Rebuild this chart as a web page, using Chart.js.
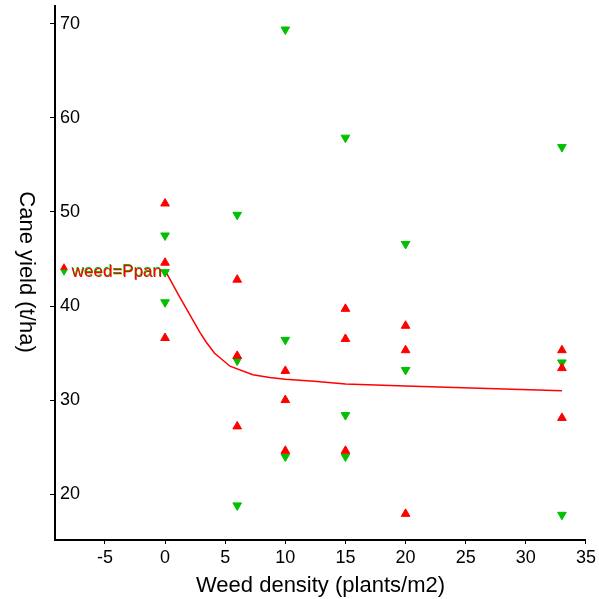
<!DOCTYPE html>
<html><head><meta charset="utf-8">
<script src="https://cdn.jsdelivr.net/npm/chart.js@4.4.0/dist/chart.umd.min.js"></script>
<style>html,body{margin:0;padding:0;background:#fff}#wrap{width:599px;height:599px;position:relative}</style>
</head><body><div id="wrap"><canvas id="c"></canvas></div>
<script>
// ---- data ----
const redX   = [0, 0, 0, 6, 6, 6, 10, 10, 10, 15, 15, 15, 20, 20, 20, 33, 33, 33];
const redY   = [50.9, 44.6, 36.6, 42.8, 34.7, 27.2, 33.1, 30.0, 24.6, 39.7, 36.5, 24.6, 37.9, 35.3, 17.9, 35.3, 33.4, 28.1];
const greenX = [0, 0, 0, 6, 6, 6, 10, 10, 10, 15, 15, 15, 20, 20, 33, 33, 33];
const greenY = [47.5, 43.6, 40.4, 49.7, 34.2, 18.8, 69.4, 36.4, 24.0, 57.9, 28.4, 24.0, 46.6, 33.2, 56.9, 34.0, 17.8];
const fitX   = [0, 1.2, 2.9, 3.4, 4.1, 5.4, 7.3, 8.7, 10, 12.4, 15, 20, 33];
const fitY   = [43.8, 41.0, 37.2, 36.2, 35.0, 33.6, 32.7, 32.4, 32.2, 32.0, 31.7, 31.5, 31.0];
const xTicks = [-5, 0, 5, 10, 15, 20, 25, 30, 35];
const yTicks = [20, 30, 40, 50, 60, 70];
const legendLabel = 'weed=Ppan';
const xTitle = 'Weed density (plants/m2)';
const yTitle = 'Cane yield (t/ha)';

const FONT = '"Liberation Sans", Arial, Helvetica, sans-serif';
const RED = '#ff0000', GREEN = '#00c000';

const pts = (xs, ys) => xs.map((x, i) => ({x: x, y: ys[i]}));

const overlay = {
  id: 'overlay',
  afterDraw(chart) {
    const ctx = chart.ctx, ca = chart.chartArea;
    ctx.save();
    // y axis title, reading top-to-bottom
    ctx.translate(26, (ca.top + ca.bottom) / 2 - 1);
    ctx.rotate(Math.PI / 2);
    ctx.font = '22px ' + FONT;
    ctx.fillStyle = '#000';
    ctx.textAlign = 'center';
    ctx.textBaseline = 'middle';
    ctx.fillText(yTitle, 0, 0);
    ctx.restore();

    // in-plot legend
    const lx = ca.left + 9, ly = 269;
    ctx.save();
    const tri = (cx, cy, r, up, col) => {
      ctx.beginPath();
      const s = up ? 1 : -1;
      ctx.moveTo(cx, cy - s * r);
      ctx.lineTo(cx + r * 0.866, cy + s * r * 0.5);
      ctx.lineTo(cx - r * 0.866, cy + s * r * 0.5);
      ctx.closePath();
      ctx.fillStyle = col; ctx.fill();
    };
    tri(lx, ly + 2.5, 4.5, false, GREEN);
    tri(lx, ly - 1.5, 4.5, true, RED);
    ctx.font = '17px ' + FONT;
    ctx.textBaseline = 'alphabetic';
    ctx.textAlign = 'left';
    ctx.fillStyle = GREEN;
    ctx.fillText(legendLabel, lx + 7.5, ly + 6.5);
    ctx.fillStyle = RED;
    ctx.fillText(legendLabel, lx + 8, ly + 7.5);
    ctx.restore();
  }
};

new Chart(document.getElementById('c'), {
  type: 'scatter',
  data: {
    datasets: [
      {label: 'red', data: pts(redX, redY), pointStyle: 'triangle', rotation: 0,
       pointRadius: 5, pointBackgroundColor: RED, pointBorderColor: RED, pointBorderWidth: 1, showLine: false},
      {label: 'green', data: pts(greenX, greenY), pointStyle: 'triangle', rotation: 180,
       pointRadius: 5, pointBackgroundColor: GREEN, pointBorderColor: GREEN, pointBorderWidth: 1, showLine: false},
      {label: 'fit', data: pts(fitX, fitY), showLine: true, borderColor: RED, borderWidth: 1.5,
       pointRadius: 0, tension: 0, fill: false}
    ]
  },
  options: {
    responsive: true, maintainAspectRatio: false, animation: false,
    layout: {padding: {top: 5, right: 11, left: 0, bottom: 0}},
    plugins: {legend: {display: false}, tooltip: {enabled: false}},
    scales: {
      x: {
        type: 'linear', min: -9.15, max: 35,
        afterBuildTicks: s => { s.ticks = xTicks.map(v => ({value: v})); },
        afterFit: s => { s.height = 59; },
        ticks: {font: {size: 18, family: FONT}, color: '#000', padding: 3, maxRotation: 0, autoSkip: false},
        grid: {drawOnChartArea: false, drawTicks: true, tickLength: 4, color: '#000', lineWidth: 1},
        border: {color: '#000', width: 2},
        title: {display: true, text: xTitle, color: '#000', font: {size: 22, family: FONT}, padding: 0}
      },
      y: {
        type: 'linear', min: 15.12, max: 71.9,
        afterBuildTicks: s => { s.ticks = yTicks.map(v => ({value: v})); },
        afterFit: s => { s.width = 55; s.paddingTop = 0; s.paddingBottom = 0; },
        ticks: {mirror: true, font: {size: 18, family: FONT}, color: '#000', padding: 5, autoSkip: false},
        grid: {drawOnChartArea: false, drawTicks: true, tickLength: 5, color: '#000', lineWidth: 1},
        border: {color: '#000', width: 2},
        title: {display: false}
      }
    }
  },
  plugins: [overlay]
});
</script>
</body></html>
